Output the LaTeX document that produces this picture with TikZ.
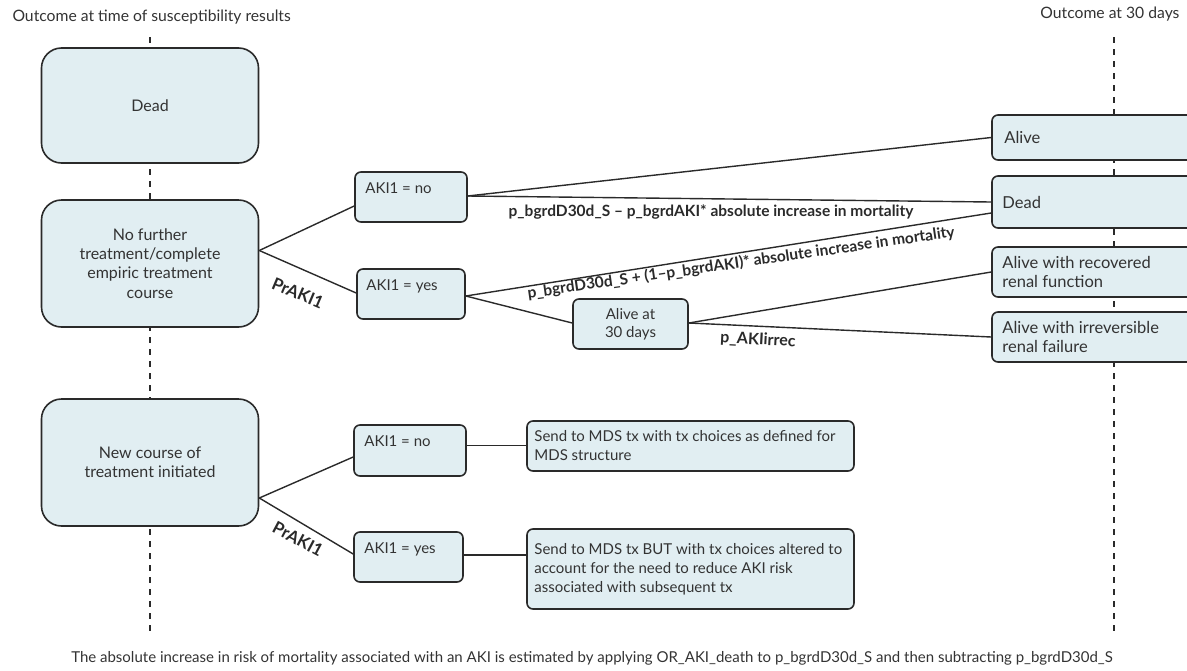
\documentclass[tikz,border=0pt]{standalone}
\usepackage{fontspec}
\setmainfont{Lato}
\usetikzlibrary{calc}
\definecolor{boxfill}{HTML}{E1EEF2}
\definecolor{ink}{HTML}{2A2A2A}
\definecolor{txt}{HTML}{333333}
\begin{document}
\begin{tikzpicture}[x=1pt,y=-1pt,
  every node/.style={text=txt, font=\fontsize{15}{19}\selectfont},
  bigbox/.style={draw=ink, fill=boxfill, line width=1.6pt, rounded corners=20pt, minimum width=217pt, align=center, inner sep=0pt, font=\fontsize{16}{19.3}\selectfont},
  smallbox/.style={draw=ink, fill=boxfill, line width=1.6pt, rounded corners=6pt, inner sep=0pt},
  conn/.style={draw=ink, line width=1.4pt},
  guide/.style={draw=ink, line width=1.5pt, dash pattern=on 6pt off 6pt},
  lbl/.style={text=ink, font=\bfseries\fontsize{15.5}{18}\selectfont, inner sep=0pt},
  prlbl/.style={text=ink, font=\bfseries\fontsize{17}{20}\selectfont, inner sep=0pt},
  toptxt/.style={anchor=north west, inner sep=0pt, align=left},
  sidetxt/.style={anchor=west, inner sep=0pt, align=left, font=\fontsize{16.5}{19}\selectfont},
  mdstxt/.style={anchor=west, inner sep=0pt, align=left, font=\fontsize{15}{19}\selectfont},
  ttl/.style={font=\fontsize{15.7}{19}\selectfont},
]
\path[use as bounding box] (0,0) rectangle (1187,670);
\clip (0,0) rectangle (1187,670);

% guide lines
\coordinate (gLtop) at (150,37);
\coordinate (gLbot) at (150,633);
\coordinate (gRtop) at (1114,37);
\coordinate (gRbot) at (1114,635);
\draw[guide] (gLtop) -- (gLbot);
\draw[guide] (gRtop) -- (gRbot);

% titles
\node[ttl, anchor=west] (t1) at (9,17) {Outcome at time of susceptibility results};
\node[ttl, anchor=east] (t2) at (1183,14) {Outcome at 30 days};

% left boxes
\node[bigbox, minimum height=115pt] (deadL) at (150,105.5) {Dead};
\node[bigbox, minimum height=127pt] (nofur) at (150,263.5) {No further\\treatment/complete\\empiric treatment\\course};
\node[bigbox, minimum height=127pt] (newc) at (150,462.5) {New course of\\treatment initiated};

% AKI boxes
\node[smallbox, minimum width=112pt, minimum height=50pt] (akino1) at (411,197) {};
\node[toptxt] (akino1t) at ($(akino1.north west)+(11,11)$) {AKI1 = no};
\node[smallbox, minimum width=108pt, minimum height=50pt] (akiyes1) at (411,294) {};
\node[toptxt] (akiyes1t) at ($(akiyes1.north west)+(10,11)$) {AKI1 = yes};
\node[smallbox, minimum width=112pt, minimum height=51pt] (akino2) at (410,450.5) {};
\node[toptxt] (akino2t) at ($(akino2.north west)+(11,11)$) {AKI1 = no};
\node[smallbox, minimum width=109pt, minimum height=50pt] (akiyes2) at (408.5,557) {};
\node[toptxt] (akiyes2t) at ($(akiyes2.north west)+(11,11)$) {AKI1 = yes};

\node[smallbox, minimum width=115pt, minimum height=50pt, align=center, font=\fontsize{15}{18}\selectfont] (alive30) at (630.5,324) {Alive at\\30 days};

% right outcome boxes
\node[smallbox, minimum width=230pt, minimum height=45pt] (aliveR) at (1107,137.5) {};
\node[sidetxt] (aliveRt) at ($(aliveR.west)+(13,0)$) {Alive};
\node[smallbox, minimum width=230pt, minimum height=52pt] (deadR) at (1107,202) {};
\node[sidetxt] (deadRt) at ($(deadR.west)+(11,0)$) {Dead};
\node[smallbox, minimum width=230pt, minimum height=50pt] (recR) at (1107,272) {};
\node[sidetxt] (recRt) at ($(recR.west)+(11,0)$) {Alive with recovered\\renal function};
\node[smallbox, minimum width=230pt, minimum height=50pt] (irrR) at (1107,337) {};
\node[sidetxt] (irrRt) at ($(irrR.west)+(11,0)$) {Alive with irreversible\\renal failure};

% MDS boxes
\node[smallbox, minimum width=327pt, minimum height=50pt] (mds1) at (690.5,446) {};
\node[mdstxt] (mds1t) at ($(mds1.west)+(8,0)$) {Send to MDS tx with tx choices as defined for\\MDS structure};
\node[smallbox, minimum width=327pt, minimum height=80pt] (mds2) at (690.5,569) {};
\node[mdstxt] (mds2t) at ($(mds2.west)+(8,0)$) {Send to MDS tx BUT with tx choices altered to\\account for the need to reduce AKI risk\\associated with subsequent tx};

% connectors
\draw[conn] ([yshift=13pt]nofur.east) -- ([yshift=-9pt]akino1.west);
\draw[conn] ([yshift=13pt]nofur.east) -- ([yshift=1pt]akiyes1.west);
\draw[conn] ([yshift=1pt]akino1.east) -- (aliveR.west);
\draw[conn] ([yshift=1pt]akino1.east) -- (deadR.west);
\draw[conn] ([yshift=-2pt]akiyes1.east) -- ([yshift=-11pt]deadR.west);
\draw[conn] ([yshift=-2pt]akiyes1.east) -- ([yshift=1pt]alive30.west);
\draw[conn] ([yshift=1pt]alive30.east) -- (recR.west);
\draw[conn] ([yshift=1pt]alive30.east) -- (irrR.west);
\draw[conn] ([yshift=-35.5pt]newc.east) -- ([yshift=-6.5pt]akino2.west);
\draw[conn] ([yshift=-35.5pt]newc.east) -- ([yshift=3pt]akiyes2.west);
\draw[conn] ([yshift=5pt]akino2.east) -- ([yshift=0.5pt]mds1.west);
\draw[conn] ([yshift=2pt]akiyes2.east) -- ([yshift=14pt]mds2.west);

% labels
\node[lbl] (l1) at (711,212) {p\_bgrdD30d\_S – p\_bgrdAKI* absolute increase in mortality};
\node[lbl, rotate=8.2] (l2) at (741,263) {p\_bgrdD30d\_S + (1–p\_bgrdAKI)* absolute increase in mortality};
\node[lbl, font=\bfseries\fontsize{16}{18}\selectfont, rotate=-3] (l3) at (758,340) {p\_AKIirrec};
\node[prlbl, rotate=-23] (p1) at (298,293) {PrAKI1};
\node[prlbl, rotate=-28] (p2) at (298,539) {PrAKI1};

% footnote
\node (foot) at (592,658) {The absolute increase in risk of mortality associated with an AKI is estimated by applying OR\_AKI\_death to p\_bgrdD30d\_S and then subtracting p\_bgrdD30d\_S};
\end{tikzpicture}
\end{document}
